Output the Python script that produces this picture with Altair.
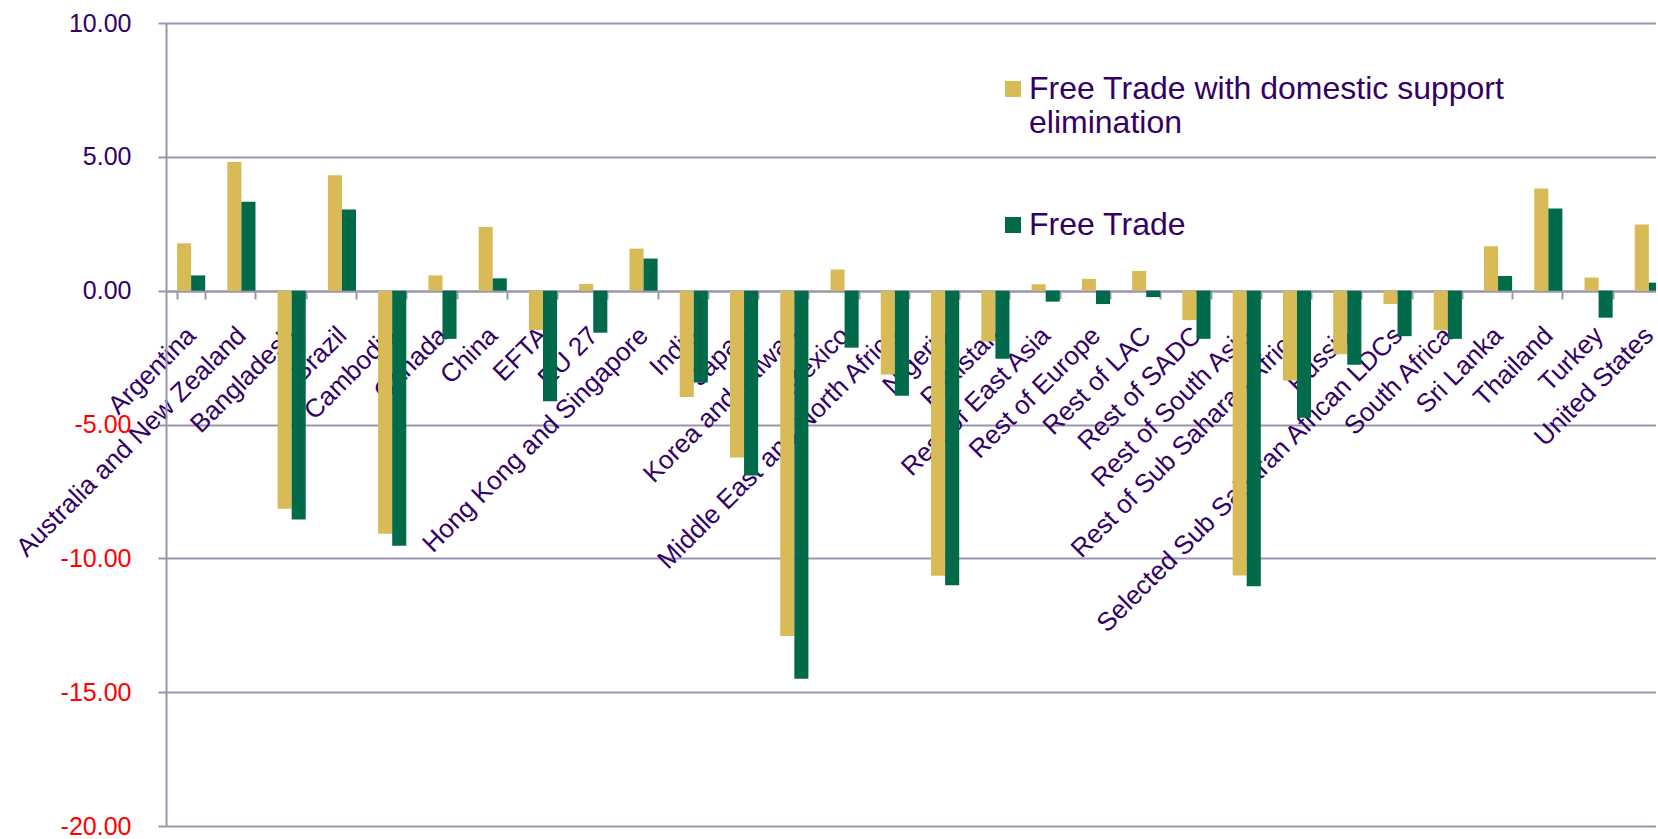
import altair as alt
import pandas as pd

categories = [
    "Argentina", "Australia and New Zealand", "Bangladesh", "Brazil", "Cambodia",
    "Canada", "China", "EFTA", "EU 27", "Hong Kong and Singapore", "India", "Japan",
    "Korea and Taiwan", "Mexico", "Middle East and North Africa", "Nigeria", "Pakistan",
    "Rest of East Asia", "Rest of Europe", "Rest of LAC", "Rest of SADC",
    "Rest of South Asia", "Rest of Sub Saharan Africa", "Russia",
    "Selected Sub Saharan African LDCs", "South Africa", "Sri Lanka", "Thailand",
    "Turkey", "United States",
]
series_names = ["Free Trade with domestic support elimination", "Free Trade"]
free_trade_dse = [1.77, 4.81, -8.15, 4.31, -9.08, 0.57, 2.38, -1.47, 0.25, 1.57,
                  -3.97, -6.23, -12.9, 0.79, -3.13, -10.65, -1.9, 0.24, 0.44, 0.74,
                  -1.10, -10.64, -3.36, -2.38, -0.50, -1.47, 1.66, 3.82, 0.49, 2.47]
free_trade = [0.57, 3.32, -8.55, 3.03, -9.53, -1.80, 0.46, -4.13, -1.57, 1.20,
              -3.43, -6.91, -14.5, -2.13, -3.93, -11.01, -2.54, -0.41, -0.50, -0.24,
              -1.80, -11.04, -4.75, -2.77, -1.70, -1.80, 0.55, 3.07, -1.01, 0.30]
y_ticks = [-20, -15, -10, -5, 0, 5, 10]
colors = ["#D8BB57", "#006A4A"]

rows = []
for c, a, b in zip(categories, free_trade_dse, free_trade):
    rows.append({"region": c, "series": series_names[0], "value": a})
    rows.append({"region": c, "series": series_names[1], "value": b})
df = pd.DataFrame(rows)

TEXT = "#330066"
GRID = "#9A96B0"
FONT = "Liberation Sans"

label_expr = ("datum.label == '" + series_names[0] + "' ? "
              "['Free Trade with domestic support', 'elimination'] : datum.label")

chart = alt.Chart(df).mark_bar(clip=True).encode(
    x=alt.X("region:N", sort=categories,
            scale=alt.Scale(range=[0, 1508], paddingInner=0.44, paddingOuter=0.22),
            axis=alt.Axis(title=None, labelAngle=-45, labelAlign="right",
                          labelBaseline="middle", tickBand="extent", tickSize=8,
                          tickWidth=2, tickColor=GRID, domainColor=GRID,
                          domainWidth=2, labelPadding=32, offset=-535,
                          labelFontSize=26, labelColor=TEXT, labelFont=FONT,
                          labelLimit=1000, labelOverlap=False)),
    xOffset=alt.XOffset("series:N", sort=series_names,
                        scale=alt.Scale(domain=series_names, paddingInner=0, paddingOuter=0)),
    y=alt.Y("value:Q",
            scale=alt.Scale(domain=[-20, 10], nice=False, zero=False),
            axis=alt.Axis(title=None, values=y_ticks, format=".2f",
                          labelExpr="replace(datum.label, '\u2212', '-')",
                          labelFontSize=25, labelFont=FONT,
                          labelColor={"expr": "datum.value < 0 ? '#FF0000' : '" + TEXT + "'"},
                          tickSize=8, tickWidth=2, tickColor=GRID,
                          domainColor=GRID, domainWidth=2, labelPadding=27,
                          grid=True, gridColor=GRID, gridWidth=2)),
    color=alt.Color("series:N", sort=series_names,
                    scale=alt.Scale(domain=series_names, range=colors),
                    legend=alt.Legend(title=None, orient="none", legendX=831, legendY=50,
                                      symbolType="square", symbolSize=256,
                                      symbolStrokeWidth=0, labelFontSize=32,
                                      labelFont=FONT, labelColor=TEXT,
                                      labelExpr=label_expr, labelOffset=0,
                                      labelLimit=1000, rowPadding=70, padding=0)),
).properties(
    width=1490,
    height=803,
    autosize=alt.AutoSizeParams(type="none"),
    padding={"left": 166, "top": 23, "right": 0, "bottom": 13},
).configure_view(stroke=None).configure_axis(
    labelFont=FONT
)

chart.save("out.html", embed_options={"renderer": "svg", "actions": False})
